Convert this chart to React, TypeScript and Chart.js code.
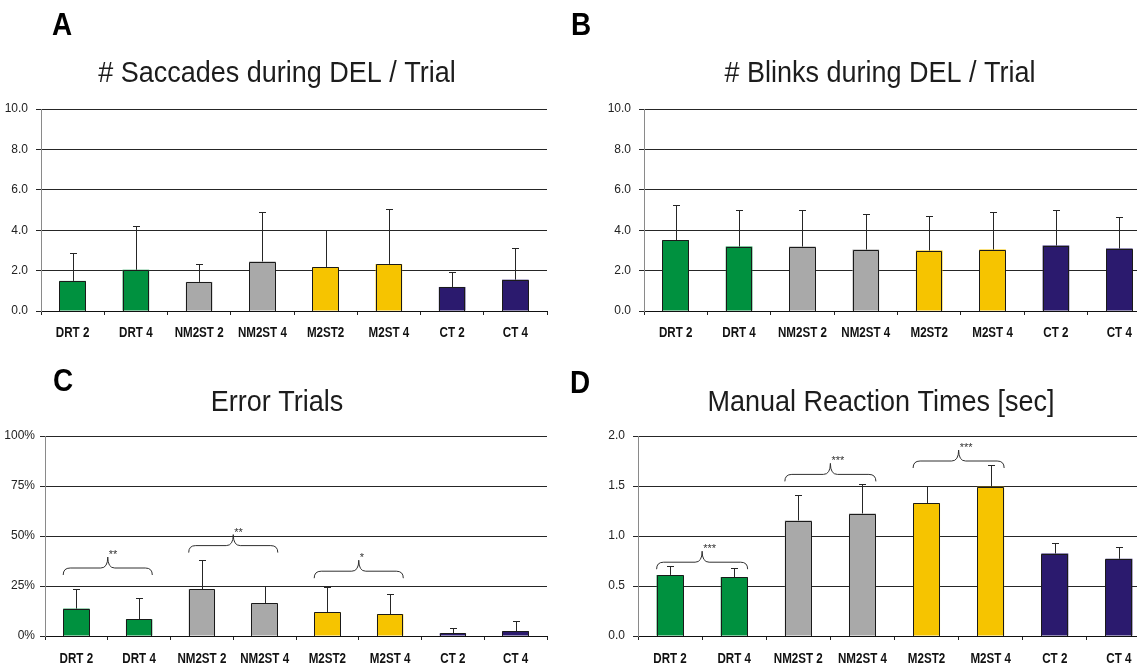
import { useEffect, useRef } from 'react';
import { Chart, registerables } from 'chart.js';

Chart.register(...registerables);

// Task conditions shown on every panel
const categories = ['DRT 2', 'DRT 4', 'NM2ST 2', 'NM2ST 4', 'M2ST2', 'M2ST 4', 'CT 2', 'CT 4'];
const barColors = ['#00913f', '#00913f', '#a9a9a9', '#a9a9a9', '#f6c400', '#f6c400', '#2b1a6e', '#2b1a6e'];

// A: saccades during delay per trial (mean, mean + SD)
const saccadeMeans = [1.49, 2.04, 1.44, 2.45, 2.18, 2.33, 1.19, 1.55];
const saccadeUpper = [2.87, 4.21, 2.35, 4.9, 4.0, 5.05, 1.92, 3.14];

// B: blinks during delay per trial
const blinkMeans = [3.51, 3.19, 3.19, 3.04, 2.99, 3.04, 3.24, 3.09];
const blinkUpper = [5.27, 5.0, 5.0, 4.79, 4.72, 4.9, 5.0, 4.67];

// C: error trials in percent
const errorMeans = [13.7, 8.4, 23.4, 16.4, 12.0, 11.0, 1.3, 2.5];
const errorUpper = [23.4, 19.2, 38.2, 25.0, 24.5, 21.2, 4.2, 7.7];

// D: manual reaction times in seconds
const rtMeans = [0.611, 0.59, 1.155, 1.225, 1.33, 1.493, 0.825, 0.772];
const rtUpper = [0.698, 0.678, 1.415, 1.523, 1.503, 1.706, 0.935, 0.892];

// Significance brackets: pair of bars, height of the bracket ends, stars
const errorBraceFrom = [0, 2, 4];
const errorBraceLevel = [30.5, 41.7, 28.9];
const errorBraceStars = ['**', '**', '*'];
const rtBraceFrom = [0, 2, 4];
const rtBraceLevel = [0.668, 1.546, 1.68];
const rtBraceStars = ['***', '***', '***'];

const SANS = "'Liberation Sans', Arial, Helvetica, sans-serif";

type Area = { left: number; right: number; top: number; bottom: number };

type PanelProps = {
  left: number;
  top: number;
  width: number;
  height: number;
  area: Area;
  letter: string;
  letterX: number;
  letterY: number;
  title: string;
  titleX: number;
  titleY: number;
  labelY: number;
  means: number[];
  upper: number[];
  yMax: number;
  yStep: number;
  fmt: (v: number) => string;
  tickPad: number;
  braceFrom?: number[];
  braceLevel?: number[];
  braceStars?: string[];
};

function Panel(p: PanelProps) {
  const ref = useRef<HTMLCanvasElement | null>(null);

  useEffect(() => {
    if (!ref.current) return;
    const ox = p.left;
    const oy = p.top;

    const decor = {
      id: 'decor',
      afterDatasetsDraw(chart: any) {
        const ctx: CanvasRenderingContext2D = chart.ctx;
        const meta = chart.getDatasetMeta(0);
        const ys = chart.scales.y;
        ctx.save();
        ctx.strokeStyle = '#262626';
        ctx.lineWidth = 1;
        // upper error whiskers with caps
        meta.data.forEach((bar: any, i: number) => {
          const x = Math.round(bar.x) + 0.5;
          const yt = Math.round(ys.getPixelForValue(p.upper[i])) + 0.5;
          ctx.beginPath();
          ctx.moveTo(x, bar.y);
          ctx.lineTo(x, yt);
          ctx.moveTo(x - 3.5, yt);
          ctx.lineTo(x + 3.5, yt);
          ctx.stroke();
        });
        // bar outlines
        ctx.strokeStyle = '#1a1a1a';
        meta.data.forEach((bar: any) => {
          const x0 = Math.round(bar.x - bar.width / 2) + 0.5;
          const x1 = Math.round(bar.x + bar.width / 2) - 0.5;
          const y0 = Math.round(bar.y) + 0.5;
          const y1 = Math.round(bar.base);
          ctx.beginPath();
          ctx.moveTo(x0, y1);
          ctx.lineTo(x0, y0);
          ctx.lineTo(x1, y0);
          ctx.lineTo(x1, y1);
          ctx.stroke();
        });
        // curly significance brackets
        (p.braceFrom || []).forEach((from, k) => {
          const b0 = meta.data[from];
          const b1 = meta.data[from + 1];
          const x0 = b0.x - b0.width / 2;
          const x1 = b1.x + b1.width / 2;
          const xm = (x0 + x1) / 2;
          const yb = ys.getPixelForValue(p.braceLevel![k]);
          const yf = yb - 7;
          const yt = yf - 11;
          const r = 7;
          ctx.strokeStyle = '#303030';
          ctx.beginPath();
          ctx.moveTo(x0, yb);
          ctx.quadraticCurveTo(x0, yf, x0 + r, yf);
          ctx.lineTo(xm - r, yf);
          ctx.quadraticCurveTo(xm, yf, xm, yt);
          ctx.quadraticCurveTo(xm, yf, xm + r, yf);
          ctx.lineTo(x1 - r, yf);
          ctx.quadraticCurveTo(x1, yf, x1, yb);
          ctx.stroke();
          ctx.fillStyle = '#333';
          ctx.font = `11px ${SANS}`;
          ctx.textAlign = 'left';
          ctx.textBaseline = 'alphabetic';
          ctx.fillText(p.braceStars![k], xm + 1, yt + 1);
        });
        ctx.restore();
      },
      afterDraw(chart: any) {
        const ctx: CanvasRenderingContext2D = chart.ctx;
        const meta = chart.getDatasetMeta(0);
        ctx.save();
        ctx.textBaseline = 'alphabetic';
        // panel letter
        ctx.fillStyle = '#000';
        ctx.font = `bold 31px ${SANS}`;
        ctx.textAlign = 'left';
        ctx.save();
        ctx.translate(p.letterX - ox, p.letterY - oy);
        ctx.scale(0.9, 1);
        ctx.fillText(p.letter, 0, 0);
        ctx.restore();
        // panel title
        ctx.fillStyle = '#1c1c1c';
        ctx.font = `30px ${SANS}`;
        ctx.textAlign = 'center';
        ctx.save();
        ctx.translate(p.titleX - ox, p.titleY - oy);
        ctx.scale(0.9, 1);
        ctx.fillText(p.title, 0, 0);
        ctx.restore();
        // category labels (condensed bold)
        ctx.fillStyle = '#111';
        ctx.font = `bold 14.5px ${SANS}`;
        meta.data.forEach((bar: any, i: number) => {
          ctx.save();
          ctx.translate(bar.x, p.labelY - oy);
          ctx.scale(0.8, 1);
          ctx.fillText(categories[i], 0, 0);
          ctx.restore();
        });
        ctx.restore();
      },
    };

    const yWidth = p.area.left - ox;
    const xHeight = oy + p.height - p.area.bottom;

    const chart = new Chart(ref.current, {
      type: 'bar',
      data: {
        labels: categories,
        datasets: [
          {
            data: p.means,
            backgroundColor: barColors,
            borderWidth: 0,
            barPercentage: 0.42,
            categoryPercentage: 1,
          },
        ],
      },
      options: {
        responsive: false,
        maintainAspectRatio: false,
        animation: false,
        devicePixelRatio: 1,
        layout: {
          padding: {
            left: 0,
            top: p.area.top - oy,
            right: ox + p.width - p.area.right,
            bottom: 0,
          },
        },
        plugins: {
          legend: { display: false },
          tooltip: { enabled: false },
          title: { display: false },
        },
        scales: {
          x: {
            offset: true,
            ticks: { display: false },
            grid: {
              offset: true,
              drawOnChartArea: false,
              drawTicks: true,
              tickLength: 4,
              color: '#222',
            },
            border: { display: true, color: '#111', width: 1 },
            afterFit: (s: any) => {
              s.height = xHeight;
            },
          },
          y: {
            min: 0,
            max: p.yMax,
            ticks: {
              stepSize: p.yStep,
              callback: (v: any) => p.fmt(Number(v)),
              font: { family: SANS, size: 12 },
              color: '#222',
              padding: p.tickPad,
            },
            grid: { color: '#262626', lineWidth: 1, drawTicks: true, tickLength: 5 },
            border: { display: true, color: '#8a8a8a', width: 1 },
            afterFit: (s: any) => {
              s.width = yWidth;
            },
          },
        },
      },
      plugins: [decor],
    });
    return () => chart.destroy();
  }, []);

  return (
    <canvas
      ref={ref}
      width={p.width}
      height={p.height}
      style={{ position: 'absolute', left: p.left, top: p.top, width: p.width, height: p.height }}
    />
  );
}

const fmt1 = (v: number) => v.toFixed(1);
const fmtPct = (v: number) => `${v}%`;

export default function App() {
  return (
    <div
      style={{
        position: 'fixed',
        left: 0,
        top: 0,
        width: 1137,
        height: 666,
        overflow: 'hidden',
        background: '#fff',
      }}
    >
      <Panel
        left={0}
        top={0}
        width={568}
        height={345}
        area={{ left: 41, right: 547, top: 109, bottom: 311 }}
        letter="A"
        letterX={52}
        letterY={35}
        title="# Saccades during DEL / Trial"
        titleX={277}
        titleY={82}
        labelY={336.5}
        means={saccadeMeans}
        upper={saccadeUpper}
        yMax={10}
        yStep={2}
        fmt={fmt1}
        tickPad={8}
      />
      <Panel
        left={568}
        top={0}
        width={600}
        height={345}
        area={{ left: 644, right: 1151, top: 109, bottom: 311 }}
        letter="B"
        letterX={571}
        letterY={35}
        title="# Blinks during DEL / Trial"
        titleX={880}
        titleY={82}
        labelY={336.5}
        means={blinkMeans}
        upper={blinkUpper}
        yMax={10}
        yStep={2}
        fmt={fmt1}
        tickPad={8}
      />
      <Panel
        left={0}
        top={340}
        width={568}
        height={326}
        area={{ left: 45, right: 547, top: 436, bottom: 636 }}
        letter="C"
        letterX={53}
        letterY={391}
        title="Error Trials"
        titleX={277}
        titleY={411}
        labelY={663}
        means={errorMeans}
        upper={errorUpper}
        yMax={100}
        yStep={25}
        fmt={fmtPct}
        tickPad={5}
        braceFrom={errorBraceFrom}
        braceLevel={errorBraceLevel}
        braceStars={errorBraceStars}
      />
      <Panel
        left={568}
        top={340}
        width={600}
        height={326}
        area={{ left: 638, right: 1151, top: 436, bottom: 636 }}
        letter="D"
        letterX={570}
        letterY={392.5}
        title="Manual Reaction Times [sec]"
        titleX={881}
        titleY={411}
        labelY={663}
        means={rtMeans}
        upper={rtUpper}
        yMax={2}
        yStep={0.5}
        fmt={fmt1}
        tickPad={8}
        braceFrom={rtBraceFrom}
        braceLevel={rtBraceLevel}
        braceStars={rtBraceStars}
      />
    </div>
  );
}
